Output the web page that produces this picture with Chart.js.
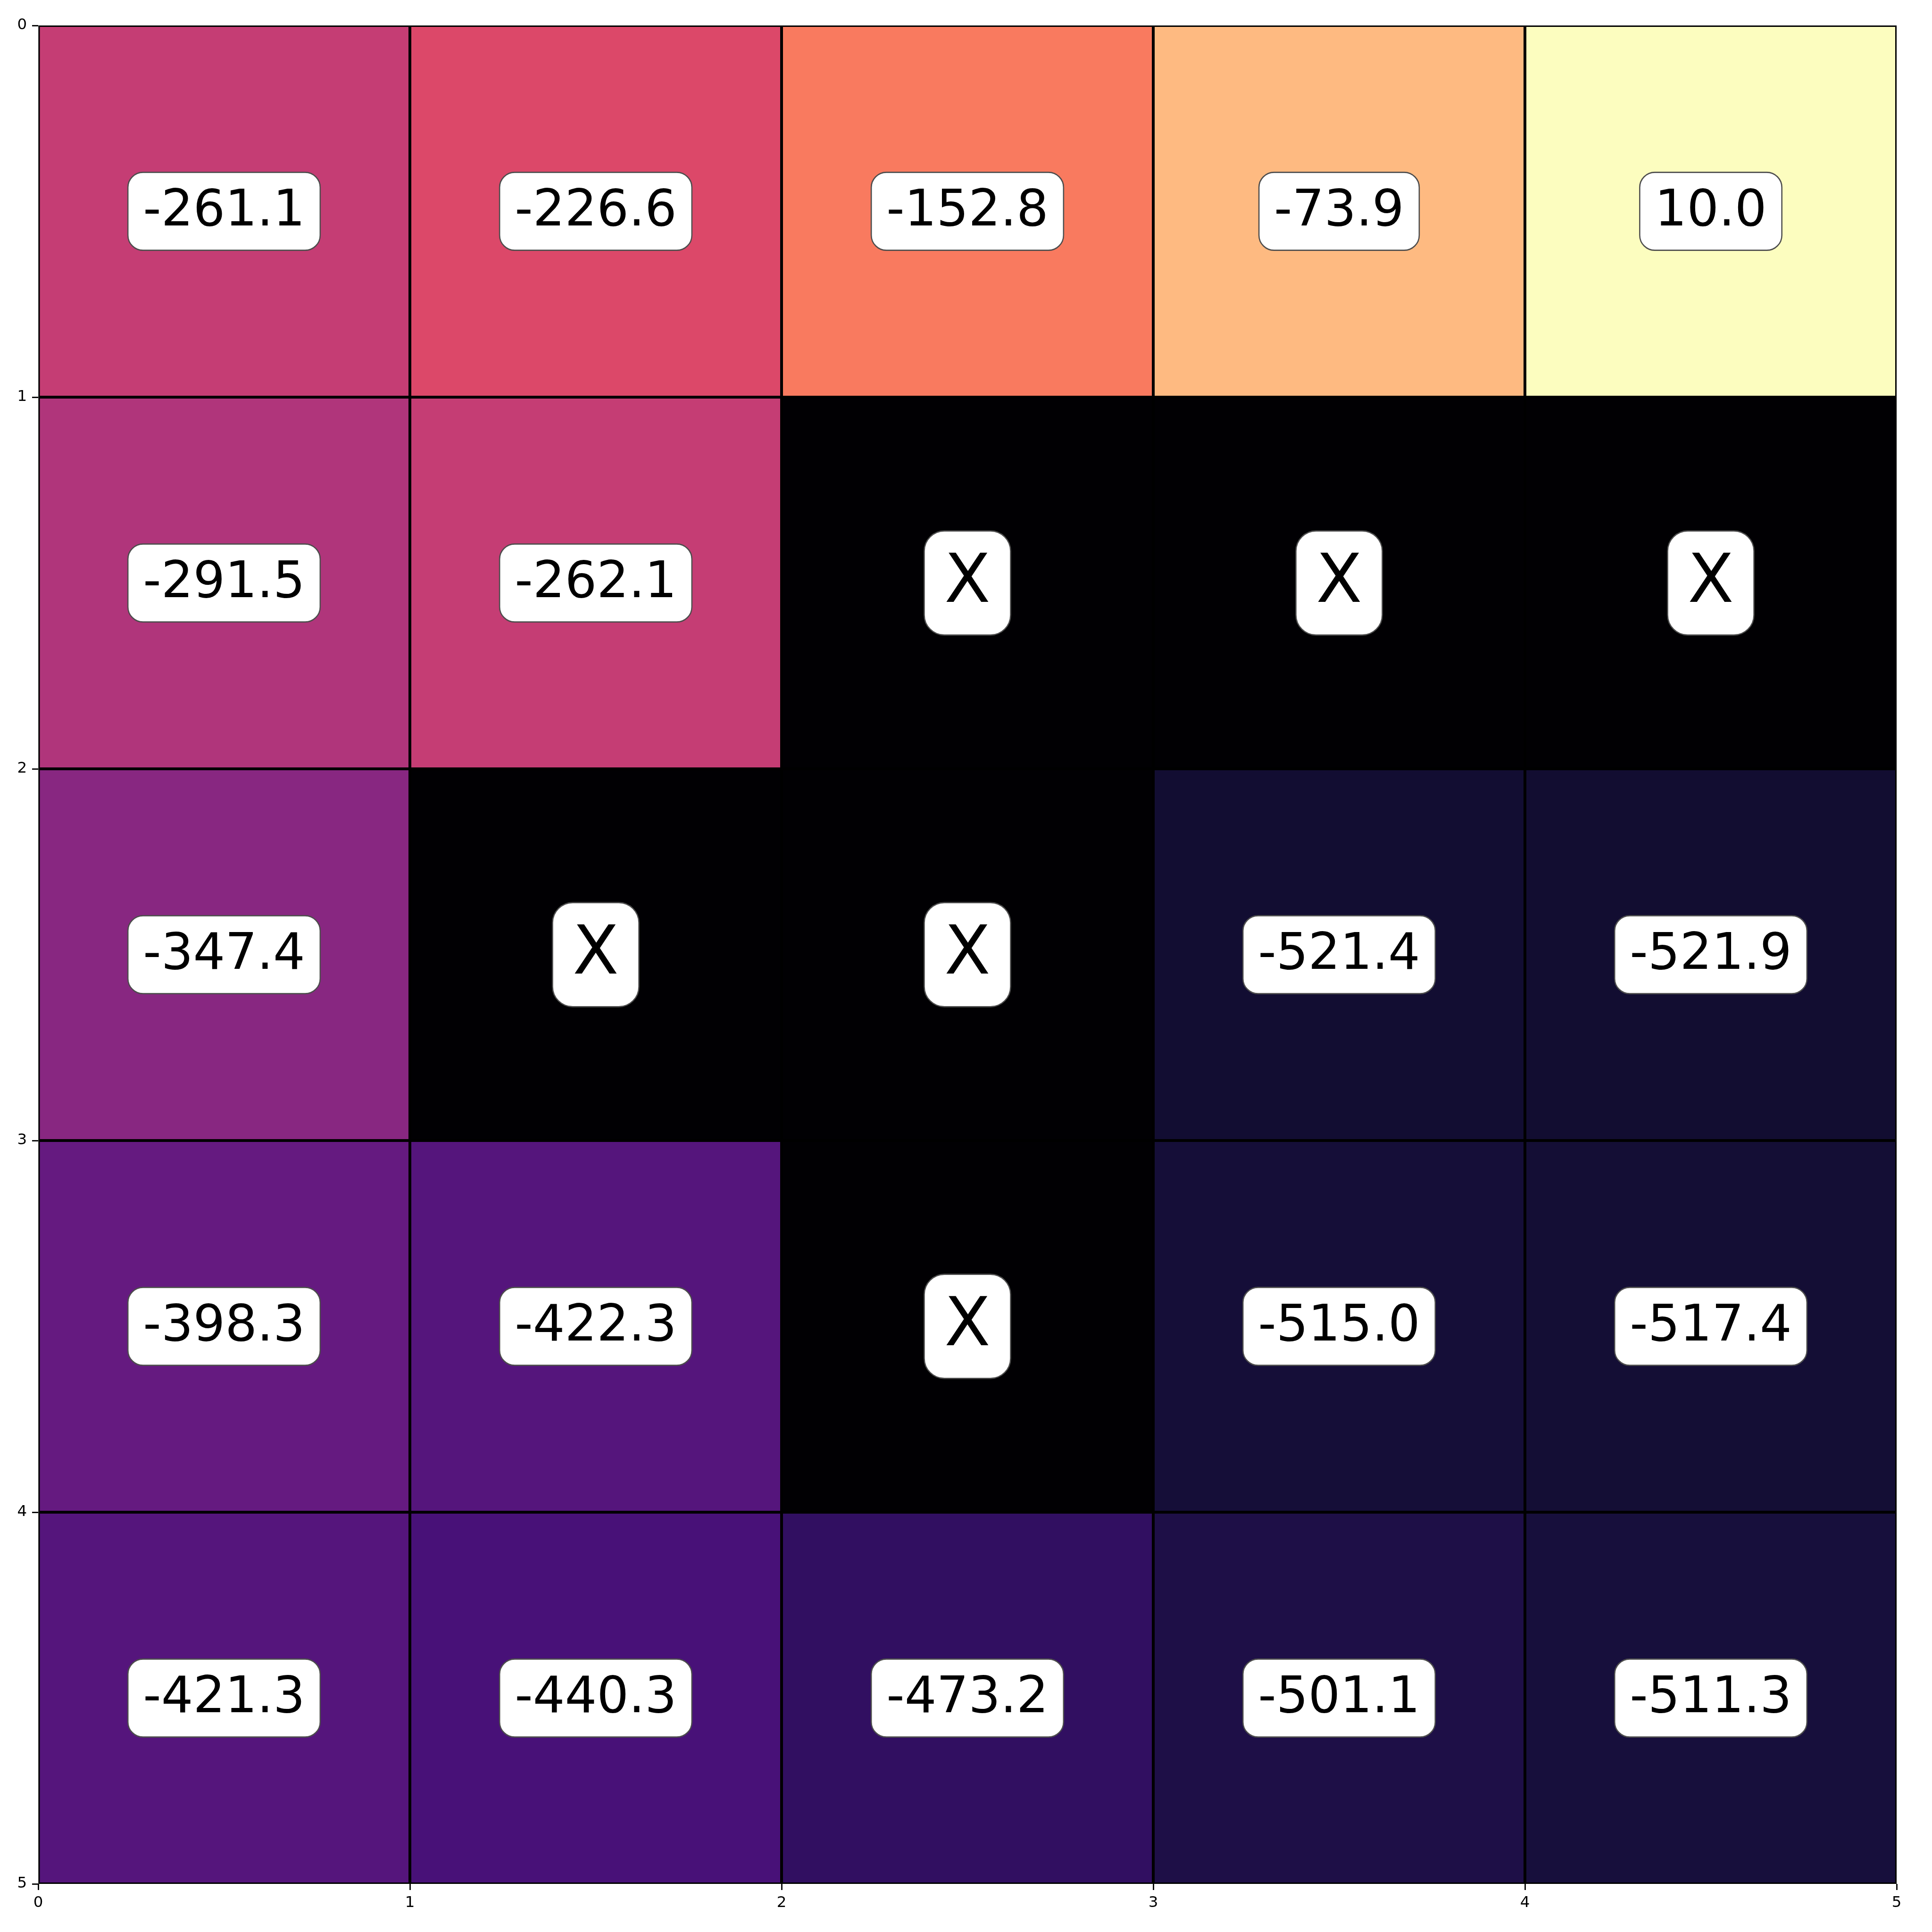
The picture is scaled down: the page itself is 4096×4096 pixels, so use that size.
<!DOCTYPE html>
<html><head><meta charset="utf-8">
<script src="https://cdn.jsdelivr.net/npm/chart.js@4"></script>
<style>html,body{margin:0;padding:0;background:#fff}#wrap{width:4096px;height:4096px}</style>
</head><body><div id="wrap"><canvas id="c" width="4096" height="4096"></canvas></div>
<script>
// ---- data ----
const xTickValues = [0, 1, 2, 3, 4, 5];
const yTickValues = [0, 1, 2, 3, 4, 5];
const row0 = [-261.1, -226.6, -152.8, -73.9, 10.0];
const row1 = [-291.5, -262.1, null, null, null];
const row2 = [-347.4, null, null, -521.4, -521.9];
const row3 = [-398.3, -422.3, null, -515.0, -517.4];
const row4 = [-421.3, -440.3, -473.2, -501.1, -511.3];
const rows = [row0, row1, row2, row3, row4];
const missingLabel = 'X';
const colorMin = -575;
const colorMax = 10;

// ---- magma colormap ----
const magmaStops = [
  [0.000, '#000004'], [0.100, '#140E36'], [0.111, '#180F3E'], [0.200, '#3B0F70'],
  [0.222, '#451077'], [0.300, '#641A80'], [0.333, '#721F81'], [0.400, '#8C2981'],
  [0.444, '#9F2F7F'], [0.500, '#B73779'], [0.556, '#CD4071'], [0.600, '#DE4968'],
  [0.667, '#F1605D'], [0.700, '#F7705C'], [0.778, '#FD9567'], [0.800, '#FE9F6D'],
  [0.889, '#FEC98D'], [0.900, '#FECF92'], [1.000, '#FCFDBF']
];
function hexRgb(h){return [1,3,5].map(i=>parseInt(h.substr(i,2),16));}
function magma(t){
  t = Math.max(0, Math.min(1, t));
  for (let i = 1; i < magmaStops.length; i++) {
    if (t <= magmaStops[i][0]) {
      const [t0, c0] = magmaStops[i-1], [t1, c1] = magmaStops[i];
      const f = (t - t0) / (t1 - t0);
      const a = hexRgb(c0), b = hexRgb(c1);
      const m = a.map((v, k) => Math.round(v + (b[k] - v) * f));
      return `rgb(${m[0]},${m[1]},${m[2]})`;
    }
  }
  return magmaStops[magmaStops.length-1][1];
}
const badColor = '#010003';

const S = 0.853;
const cells = [];
const colors = [];
rows.forEach((row, r) => row.forEach((v, c) => {
  cells.push({x: [c, c + 1], y: r + 0.5, v: v});
  colors.push(v === null ? badColor : magma((v - colorMin) / (colorMax - colorMin)));
}));

Chart.defaults.font.family = '"DejaVu Sans", sans-serif';
Chart.defaults.color = '#000';

const labelPlugin = {
  id: 'cellLabels',
  afterDatasetsDraw(chart) {
    const ctx = chart.ctx, xs = chart.scales.x, ys = chart.scales.y;
    ctx.save();
    rows.forEach((row, r) => row.forEach((v, c) => {
      const cx = xs.getPixelForValue(c + 0.5);
      const cy = ys.getPixelForValue(r + 0.5);
      const txt = v === null ? missingLabel : v.toFixed(1);
      const fs = v === null ? 167 * S : 125 * S;
      ctx.font = `${fs}px "DejaVu Sans"`;
      const tw = ctx.measureText(txt).width;
      const pad = 0.3 * fs;
      const w = tw + 2 * pad, h = 1.55 * fs;
      ctx.beginPath();
      ctx.roundRect(cx - w / 2, cy - h / 2, w, h, pad);
      ctx.fillStyle = '#ffffff';
      ctx.fill();
      ctx.lineWidth = 3 * S;
      ctx.strokeStyle = '#4d4d4d';
      ctx.stroke();
      ctx.fillStyle = '#000';
      ctx.textAlign = 'center';
      ctx.textBaseline = 'alphabetic';
      ctx.fillText(txt, cx, cy + 0.28 * fs);
    }));
    ctx.restore();
  }
};

const tickFont = {family: '"DejaVu Sans"', size: 38 * S};
const gridOpts = {drawOnChartArea: false, drawTicks: true, tickLength: 13, tickWidth: 2.8, tickColor: '#000', color: '#000', offset: false};

new Chart(document.getElementById('c'), {
  type: 'bar',
  data: {
    datasets: [{
      data: cells,
      backgroundColor: colors,
      borderColor: '#000',
      borderWidth: 3.9 * S,
      borderSkipped: false,
      categoryPercentage: 1.0,
      barPercentage: 1.0
    }]
  },
  options: {
    indexAxis: 'y',
    responsive: false,
    animation: false,
    devicePixelRatio: 1,
    layout: {padding: {top: 54, right: 75, left: 0, bottom: 0}},
    plugins: {legend: {display: false}, tooltip: {enabled: false}},
    scales: {
      x: {
        type: 'linear', position: 'bottom', min: 0, max: 5, offset: false, beginAtZero: false,
        afterBuildTicks: s => { s.ticks = xTickValues.map(v => ({value: v})); },
        ticks: {font: tickFont, color: '#000', padding: 8, maxRotation: 0, autoSkip: false},
        grid: gridOpts,
        border: {display: false},
        afterFit: s => { s.height = 102; }
      },
      y: {
        type: 'linear', position: 'left', min: 0, max: 5, reverse: true, offset: false, beginAtZero: false,
        afterBuildTicks: s => { s.ticks = yTickValues.map(v => ({value: v})); },
        ticks: {font: tickFont, color: '#000', padding: 11, autoSkip: false},
        grid: gridOpts,
        border: {display: false},
        afterFit: s => { s.width = 81; }
      }
    }
  },
  plugins: [labelPlugin]
});
</script>
</body></html>
